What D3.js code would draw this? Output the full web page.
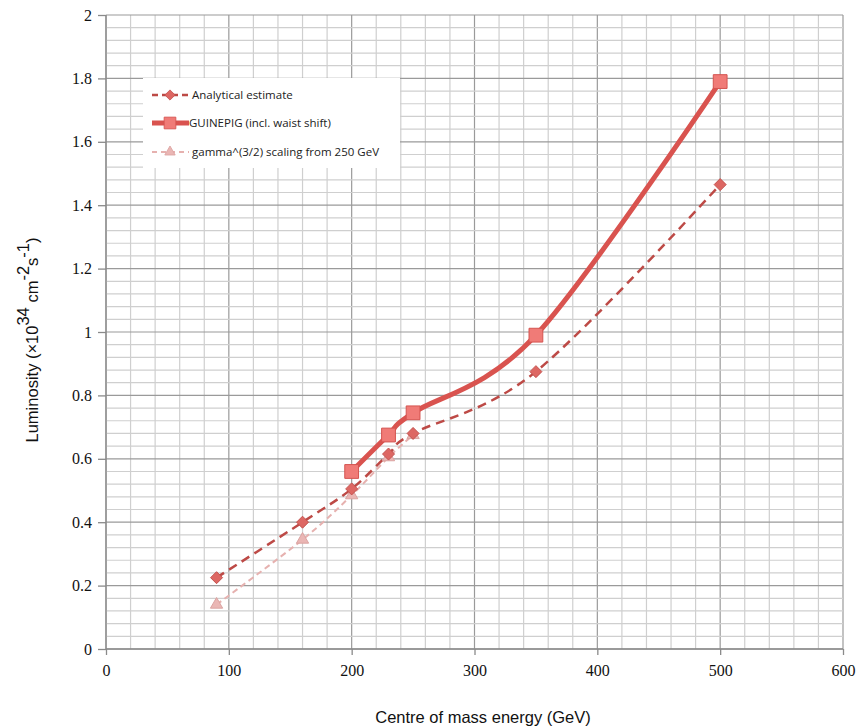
<!DOCTYPE html>
<html><head><meta charset="utf-8">
<script src="https://cdn.jsdelivr.net/npm/d3@7"></script>
<style>body{margin:0;background:#fff;}svg{display:block;}
text.tk{font-family:"Liberation Serif";font-size:16px;}
</style>
</head><body>
<svg id="c" width="858" height="728"></svg>
<script>
const analyticalE = [90,160,200,230,250,350,500];
const analyticalL = [0.225,0.40,0.505,0.615,0.68,0.875,1.465];
const guineaE = [200,230,250,350,500];
const guineaL = [0.56,0.675,0.745,0.99,1.79];
const gammaE = [90,160,200,230,250];
const gammaL = [0.14,0.345,0.485,0.605,0.675];
const xTicks = [0,100,200,300,400,500,600];
const yTicks = [0,0.2,0.4,0.6,0.8,1,1.2,1.4,1.6,1.8,2];
const legendLabels = ["Analytical estimate","GUINEPIG (incl. waist shift)","gamma^(3/2) scaling from 250 GeV"];

const SERIF="Liberation Serif", SANS="Liberation Sans", LEG="Open Sans";
const svg = d3.select("#c");
const L=106,R=843,T=15,B=649;
const x = d3.scaleLinear().domain([0,600]).range([L,R]);
const y = d3.scaleLinear().domain([0,2]).range([B,T]);

const g = svg.append("g");
const xMinor = d3.range(0,601,20), yMinor = d3.range(0,51).map(i=>i*0.04);
g.selectAll(".vx").data(xMinor).enter().append("line")
 .attr("x1",d=>x(d)).attr("x2",d=>x(d)).attr("y1",T).attr("y2",B)
 .attr("stroke",d=>d%100===0?"#9a9a9a":"#cfcfcf").attr("stroke-width",1.2);
g.selectAll(".hy").data(yMinor).enter().append("line")
 .attr("y1",d=>y(d)).attr("y2",d=>y(d)).attr("x1",L).attr("x2",R)
 .attr("stroke",d=>Math.abs(d*5-Math.round(d*5))<1e-6?"#9a9a9a":"#cfcfcf").attr("stroke-width",1.2);

const xAxis = d3.axisBottom(x).tickValues(xTicks).tickSize(6).tickPadding(10).tickFormat(d3.format("d"));
const yAxis = d3.axisLeft(y).tickValues(yTicks).tickSize(8).tickPadding(6).tickFormat(d=>String(d));
const gx = svg.append("g").attr("transform",`translate(0,${B})`).call(xAxis);
const gy = svg.append("g").attr("transform",`translate(${L},0)`).call(yAxis);
gx.attr("font-family",SERIF).attr("font-size",16);
gy.attr("font-family",SERIF).attr("font-size",16);
gx.selectAll("text").attr("class","tk").attr("font-family",SERIF).attr("font-size",16).attr("fill","#111");
gy.selectAll("text").attr("class","tk").attr("font-family",SERIF).attr("font-size",16).attr("fill","#111");
[gx,gy].forEach(a=>{
  a.select(".domain").attr("stroke","#8a8a8a").attr("stroke-width",1.3);
  a.selectAll(".tick line").attr("stroke","#8a8a8a").attr("stroke-width",1.3);
});
gy.select(".domain").attr("d",`M0,${T}V${B}`);
gx.select(".domain").attr("d",`M${L},0H${R}`);

const curve = d3.curveCatmullRom.alpha(0);
const mk = (E,Lv)=>E.map((e,i)=>[e,Lv[i]]);
const line = d3.line().x(d=>x(d[0])).y(d=>y(d[1])).curve(curve);

const diamond = r => `M0,${-r}L${r},0L0,${r}L${-r},0Z`;
const series = [
 {data:mk(gammaE,gammaL), stroke:"#e6b1af", w:2, dash:"6,4", sym:d3.symbol().type(d3.symbolTriangle).size(65)(), fill:"#eab6b4", mstroke:"#dba3a1"},
 {data:mk(analyticalE,analyticalL), stroke:"#bd4a46", w:2.5, dash:"9,6", sym:diamond(6), fill:"#dd6763", mstroke:"#c4534f"},
 {data:mk(guineaE,guineaL), stroke:"#d9534f", w:5, dash:null, sym:d3.symbol().type(d3.symbolSquare).size(190)(), fill:"#f07b77", mstroke:"#d45450"}
];
series.forEach(s=>{
  svg.append("path").datum(s.data).attr("d",line).attr("fill","none")
   .attr("stroke",s.stroke).attr("stroke-width",s.w).attr("stroke-dasharray",s.dash);
});
series.forEach(s=>{
  svg.selectAll(null).data(s.data).enter().append("path")
   .attr("d",s.sym)
   .attr("transform",d=>`translate(${x(d[0])},${y(d[1])})`)
   .attr("fill",s.fill).attr("stroke",s.mstroke).attr("stroke-width",1);
});

const lg = svg.append("g");
lg.append("rect").attr("x",143).attr("y",78).attr("width",257).attr("height",90).attr("fill","#fff");
const ly=[95,123,152];
const order=[1,2,0];
order.forEach((si,i)=>{
  const s=series[si], yy=ly[i];
  lg.append("line").attr("x1",152).attr("x2",189).attr("y1",yy).attr("y2",yy)
   .attr("stroke",s.stroke).attr("stroke-width",s.w).attr("stroke-dasharray",si===2?null:(si===1?"6,4":"5,4"));
  lg.append("path").attr("d",s.sym).attr("transform",`translate(170,${yy}) scale(0.85)`)
   .attr("fill",s.fill).attr("stroke",s.mstroke).attr("stroke-width",1);
  lg.append("text").attr("x",i===1?189:192).attr("y",yy+4).text(legendLabels[i])
   .attr("font-family",LEG).attr("font-size",11.5).attr("fill","#222");
});

svg.append("text").attr("x",483).attr("y",723).attr("text-anchor","middle")
 .attr("font-family",SANS).attr("font-size",16.5).attr("fill","#111")
 .text("Centre of mass energy (GeV)");
const yt = svg.append("text").attr("transform","translate(38,340) rotate(-90)").attr("text-anchor","middle")
 .attr("font-family",SANS).attr("font-size",16.5).attr("fill","#111");
yt.append("tspan").text("Luminosity (×10");
yt.append("tspan").attr("dy",-9).text("34");
yt.append("tspan").attr("dy",9).text(" cm");
yt.append("tspan").attr("dy",-9).text("-2");
yt.append("tspan").attr("dy",9).text("s");
yt.append("tspan").attr("dy",-9).text("-1");
yt.append("tspan").attr("dy",9).text(")");
</script>
</body></html>
